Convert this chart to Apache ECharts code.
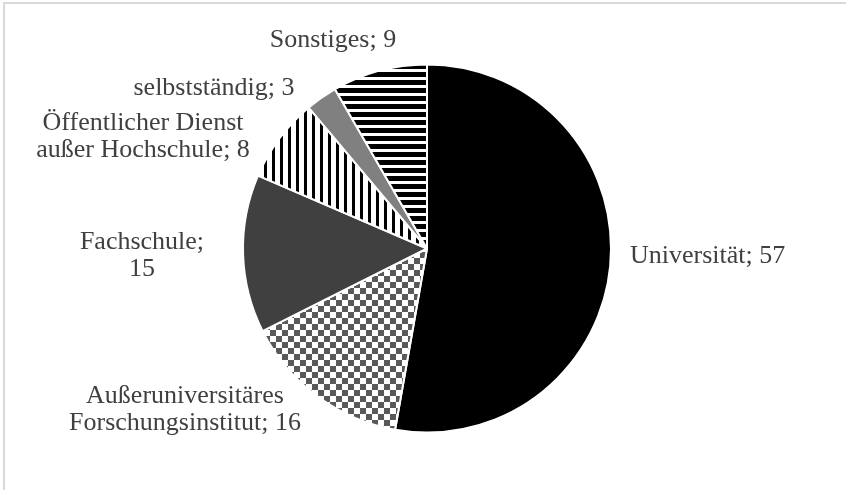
<!DOCTYPE html>
<html>
<head>
<meta charset="utf-8">
<script src="https://cdn.jsdelivr.net/npm/echarts@6/dist/echarts.min.js"></script>
<style>
  html, body { margin: 0; padding: 0; background: #fff; }
  #chart { width: 846px; height: 490px; }
</style>
</head>
<body>
<div id="chart"></div>
<script>
  // Kategorien und Werte (Anzahl)
  const categories = [
    'Universität',
    'Außeruniversitäres\nForschungsinstitut',
    'Fachschule',
    'Öffentlicher Dienst\naußer Hochschule',
    'selbstständig',
    'Sonstiges'
  ]
  const values = [57, 16, 15, 8, 3, 9]

  // Muster wie im Original (Schwarzweiß-Druck)
  function makePattern(w, h, draw) {
    const c = document.createElement('canvas')
    c.width = w
    c.height = h
    const ctx = c.getContext('2d')
    ctx.fillStyle = '#fff'
    ctx.fillRect(0, 0, w, h)
    draw(ctx)
    return {image: c, repeat: 'repeat'}
  }

  const checker = makePattern(12, 12, ctx => {
    ctx.fillStyle = '#595959'
    ctx.fillRect(0, 0, 6, 6)
    ctx.fillRect(6, 6, 6, 6)
  })
  const vStripes = makePattern(8, 8, ctx => {
    ctx.fillStyle = '#000'
    ctx.fillRect(0, 0, 3, 8)
  })
  const hStripes = makePattern(8, 8, ctx => {
    ctx.fillStyle = '#000'
    ctx.fillRect(0, 0, 8, 5)
  })

  const fills = ['#000000', checker, '#404040', vStripes, '#808080', hStripes]

  // Beschriftungspositionen (wie Excel sie gesetzt hat)
  const labelPos = [
    {x: 630, y: 256, align: 'left'},
    {x: 185, y: 410, align: 'center'},
    {x: 142, y: 256, align: 'center'},
    {x: 143, y: 137, align: 'center'},
    {x: 214, y: 88, align: 'center'},
    {x: 333, y: 40, align: 'center'}
  ]

  const chart = echarts.init(document.getElementById('chart'))

  chart.setOption({
    animation: false,
    graphic: [{
      type: 'polyline',
      shape: {points: [[4, 490], [4, 3], [846, 3]]},
      style: {stroke: '#d9d9d9', lineWidth: 2, fill: null}
    }],
    series: [{
      type: 'pie',
      center: [427, 248.5],
      radius: 184,
      startAngle: 90,
      clockwise: true,
      avoidLabelOverlap: false,
      itemStyle: {borderColor: '#fff', borderWidth: 2},
      label: {
        show: true,
        fontFamily: 'Liberation Serif',
        fontSize: 26,
        lineHeight: 27,
        color: '#404040',
        align: 'center',
        formatter: p => p.name + ';' + (p.dataIndex === 2 ? '\n' : ' ') + p.value
      },
      labelLine: {show: false},
      labelLayout: params => {
        const pos = labelPos[params.dataIndex]
        return {x: pos.x, y: pos.y, align: pos.align, verticalAlign: 'middle'}
      },
      emphasis: {disabled: true},
      data: categories.map((name, i) => ({
        name: name,
        value: values[i],
        itemStyle: {color: fills[i]}
      }))
    }]
  })
</script>
</body>
</html>
